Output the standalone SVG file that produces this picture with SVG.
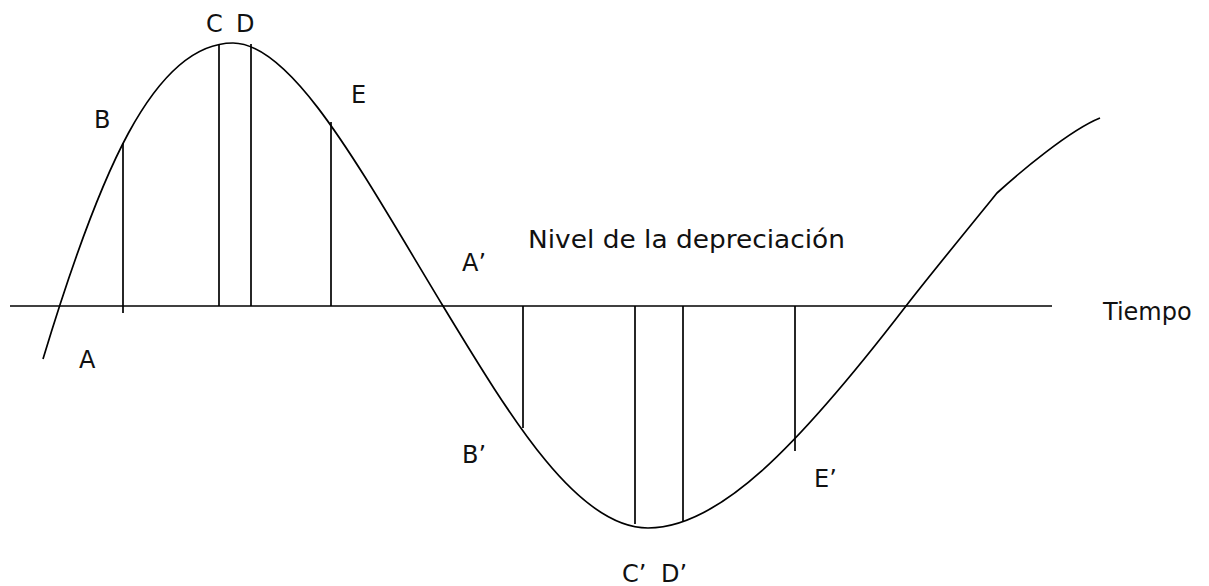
<svg xmlns="http://www.w3.org/2000/svg" width="1209" height="586" viewBox="0 0 1209 586">
<style>
.ln{stroke:#000;stroke-width:1.7;fill:none;stroke-linecap:butt}
.t{font-family:"DejaVu Sans","Liberation Sans",sans-serif;font-size:24px;fill:#111}
</style>
<rect width="1209" height="586" fill="#fff"/>
<g id="connectors">
<line id="axis" class="ln" x1="10" y1="306" x2="1052" y2="306"/>
<path id="curve" class="ln" d="M43,359 C98,177 153,43 233,43 C293,43 363,174 443,306 C513,421.5 578,528 648,528 C718,528 796,449 906,306 C926,280 975,220 997,193 C1020,172 1070,130 1100,118"/>
<line class="ln" x1="123" y1="143" x2="123" y2="313"/>
<line class="ln" x1="219" y1="44" x2="219" y2="306"/>
<line class="ln" x1="251" y1="44" x2="251" y2="306"/>
<line class="ln" x1="331" y1="122" x2="331" y2="306"/>
<line class="ln" x1="523" y1="306" x2="523" y2="428"/>
<line class="ln" x1="635" y1="306" x2="635" y2="524"/>
<line class="ln" x1="683" y1="306" x2="683" y2="522"/>
<line class="ln" x1="795" y1="306" x2="795" y2="451"/>
</g>
<g id="label-A"><text class="t" x="79" y="368">A</text></g>
<g id="label-B"><text class="t" x="94" y="128">B</text></g>
<g id="label-CD"><text class="t" x="206" y="32">C<tspan x="236">D</tspan></text></g>
<g id="label-E"><text class="t" x="351" y="103">E</text></g>
<g id="label-A2"><text class="t" x="462" y="271">A’</text></g>
<g id="label-B2"><text class="t" x="462" y="463">B’</text></g>
<g id="label-CD2"><text class="t" x="622" y="582">C’<tspan x="661">D’</tspan></text></g>
<g id="label-E2"><text class="t" x="814" y="487">E’</text></g>
<g id="label-nivel"><text class="t" x="528" y="248" textLength="317" lengthAdjust="spacingAndGlyphs">Nivel de la depreciación</text></g>
<g id="label-tiempo"><text class="t" x="1103" y="320">Tiempo</text></g>
</svg>
